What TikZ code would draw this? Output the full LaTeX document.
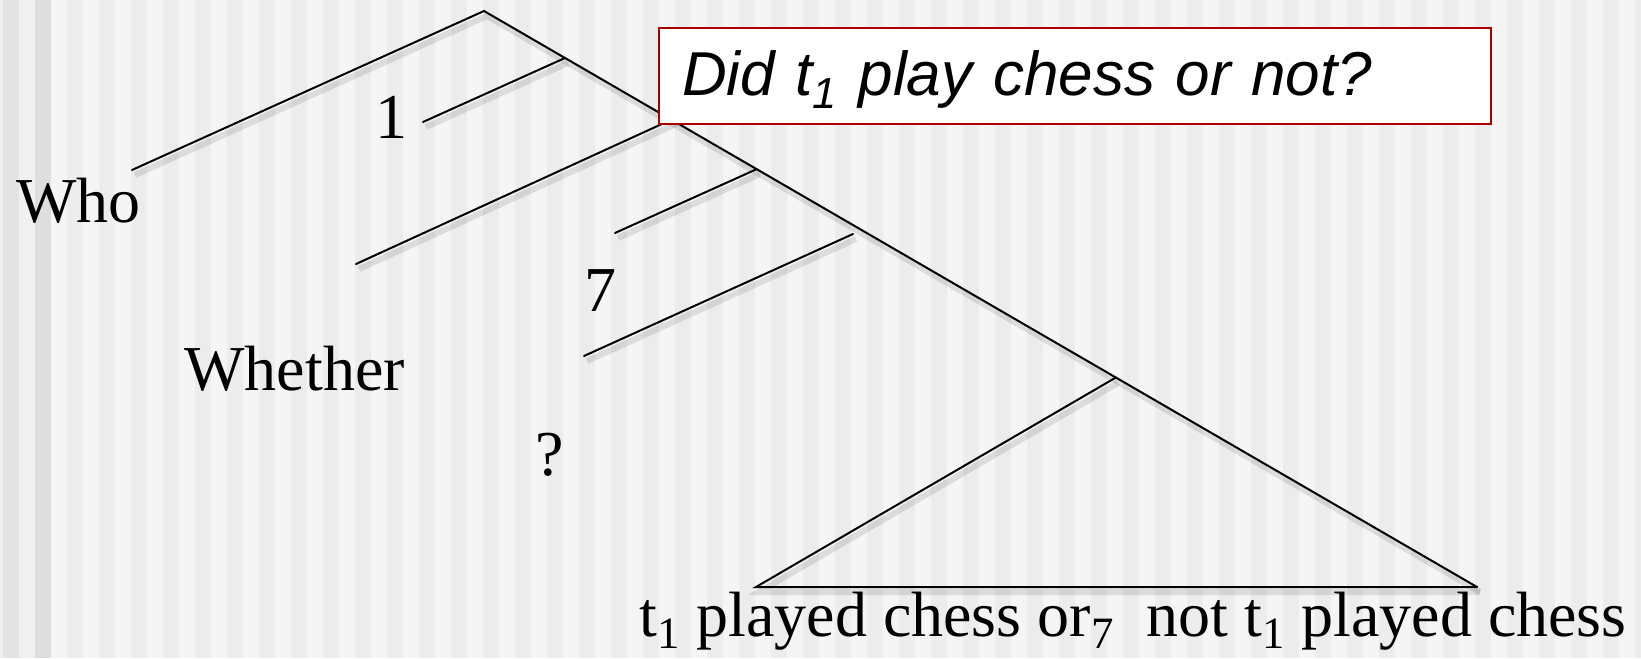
\documentclass[tikz,border=0pt]{standalone}
\usepackage{fontspec}
\setmainfont{Liberation Serif}
\newfontfamily\qfont{Liberation Sans}
\usepackage{xcolor}
\usetikzlibrary{positioning}

\definecolor{stripelight}{HTML}{F5F5F5}
\definecolor{stripedark}{HTML}{ECECEC}
\definecolor{boxred}{HTML}{A80000}

\tikzset{
  branch/.style={line width=1pt, line cap=round,
    preaction={draw=black, opacity=0.10, line width=3pt,
      transform canvas={shift={(1.5pt,-2.5pt)}}}},
  word/.style={inner sep=0pt, anchor=base, font=\fontsize{32}{38}\selectfont},
  qbox/.style={draw=boxred, line width=1pt, fill=white, inner xsep=11.5pt,
    minimum width=416pt, minimum height=48pt, text width=393pt, align=left,
    text height=22pt, text depth=2pt, font=\qfont\itshape\fontsize{31}{36}\selectfont}
}

\begin{document}
\begin{tikzpicture}[x=0.5pt, y=-0.5pt]
\useasboundingbox (0,0) rectangle (1641,658);

% Background stripes
\fill[stripelight] (0,0) rectangle (1641,658);
\fill[black!6] (0,0) rectangle (35,658);
\foreach \k in {0,...,51}
  \fill[stripedark] ({3+32*\k},0) rectangle ({19+32*\k},658);
\fill[black!11] (3,0) rectangle (19,658);
\fill[black!13] (35,0) rectangle (51,658);

% Tree points
\coordinate (apex) at (484,11);
\coordinate (whoend) at (132,170);
\coordinate (j1) at (565,58);
\coordinate (l1) at (423,122);
\coordinate (j2) at (675,118);
\coordinate (l2) at (356,264);
\coordinate (j3) at (757,169);
\coordinate (l3) at (615,233);
\coordinate (j4) at (853,234);
\coordinate (l4) at (584,356);
\coordinate (j5) at (1115,378);
\coordinate (bl) at (756,587);
\coordinate (br) at (1477,587);

% Branches
\draw[branch] (whoend) -- (apex) -- (br);
\draw[branch] (j1) -- (l1);
\draw[branch] (j2) -- (l2);
\draw[branch] (j3) -- (l3);
\draw[branch] (j4) -- (l4);
\draw[branch] (j5) -- (bl) -- (br);

% Labels
\node[word, anchor=base west] (who) at (16,222) {Who};
\node[word, anchor=base west] (whether) at (184,390) {Whether};
\node[word] (one) at (391,138) {1};
\node[word] (seven) at (600,311) {7};
\node[word] (qmark) at (550,475) {?};
\node[word, anchor=base west] (clause) at (639,636)
  {t\textsubscript{1} played chess or\textsubscript{7}~ not t\textsubscript{1} played chess};

% Question box
\node[qbox] (question) at (1075,76) {Did t\textsubscript{1} play chess or not?};
\end{tikzpicture}
\end{document}
